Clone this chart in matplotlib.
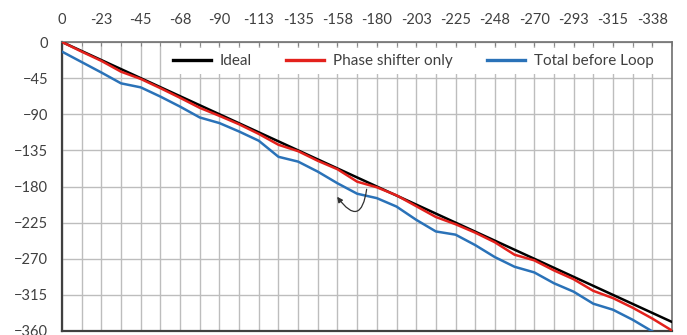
import numpy as np
import matplotlib
matplotlib.use("Agg")
from matplotlib import pyplot as plt

# phase states (deg), 32 steps of 11.25
ideal = [0, -11.25, -22.5, -33.75, -45, -56.25, -67.5, -78.75, -90, -101.25,
         -112.5, -123.75, -135, -146.25, -157.5, -168.75, -180, -191.25, -202.5,
         -213.75, -225, -236.25, -247.5, -258.75, -270, -281.25, -292.5, -303.75,
         -315, -326.25, -337.5, -348.75]
phase_shifter = [0, -12, -23.5, -37, -46, -57.5, -69.5, -82, -92, -102.5,
                 -114.5, -128, -136, -148, -158.5, -174, -181, -191, -204.5,
                 -218, -227, -237.5, -249.5, -265, -272, -284.5, -295.5, -310,
                 -319, -331, -344.5, -359.5]
total_before_loop = [-12, -25, -38, -51.5, -56.5, -68, -80.5, -94, -101, -111.5,
                     -123, -143, -149, -161.5, -176, -189, -194.5, -205, -221.5,
                     -236, -240, -253, -268, -280, -287, -300.5, -311, -326,
                     -333.5, -346, -360.5, -372]
xlabels = ['0', '-23', '-45', '-68', '-90', '-113', '-135', '-158', '-180',
           '-203', '-225', '-248', '-270', '-293', '-315', '-338']
yticks = [0, -45, -90, -135, -180, -225, -270, -315, -360]

plt.rcParams['font.family'] = ['Lato', 'DejaVu Sans']

fig = plt.figure(figsize=(6.87, 3.35), dpi=100)
ax = fig.add_axes([62/687, 1 - 331/335, 610/687, 289/335])

x = np.arange(len(ideal))
ax.plot(x, ideal, color='black', lw=1.8, label='Ideal', zorder=3)
ax.plot(x, phase_shifter, color='#e3211c', lw=1.8, label='Phase shifter only', zorder=4)
ax.plot(x, total_before_loop, color='#2a72b8', lw=1.8, label='Total before Loop', zorder=3)

ax.set_xlim(0, len(ideal) - 1)
ax.set_ylim(-360, 0)
ax.set_xticks(x, minor=True)
ax.set_xticks(x[::2])
ax.set_xticklabels(xlabels)
ax.set_yticks(yticks)
ax.xaxis.tick_top()
ax.tick_params(axis='x', which='both', direction='in', length=3, color='#808080',
               labelsize=10.5, labelcolor='#404040', pad=11)
ax.tick_params(axis='y', length=0, labelsize=10.5, labelcolor='#404040', pad=10)
ax.grid(True, which='both', color='#bdbdbd', lw=1)
ax.set_axisbelow(True)
for side in ['left', 'bottom']:
    ax.spines[side].set_color('#404040')
    ax.spines[side].set_linewidth(1.6)
for side in ['top', 'right']:
    ax.spines[side].set_color('#707070')
    ax.spines[side].set_linewidth(1.2)

leg = ax.legend(loc='upper right', ncol=3, frameon=True, fontsize=11,
                handlelength=2.5, handletextpad=0.6, columnspacing=2.2,
                borderaxespad=0.2, bbox_to_anchor=(0.985, 0.99))
leg.get_frame().set_facecolor('white')
leg.get_frame().set_edgecolor('none')
leg.get_frame().set_alpha(1)
for t in leg.get_texts():
    t.set_color('#404040')
for h in leg.get_lines():
    h.set_linewidth(2.4)

# curved arrow pointing at the blue dip
ax.annotate('', xy=(13.9, -190), xytext=(15.5, -180),
            arrowprops=dict(arrowstyle='-|>', color='#303030', lw=0.9,
                            mutation_scale=8,
                            connectionstyle='arc3,rad=-1.3'))

fig.savefig('out.png', dpi=100)
